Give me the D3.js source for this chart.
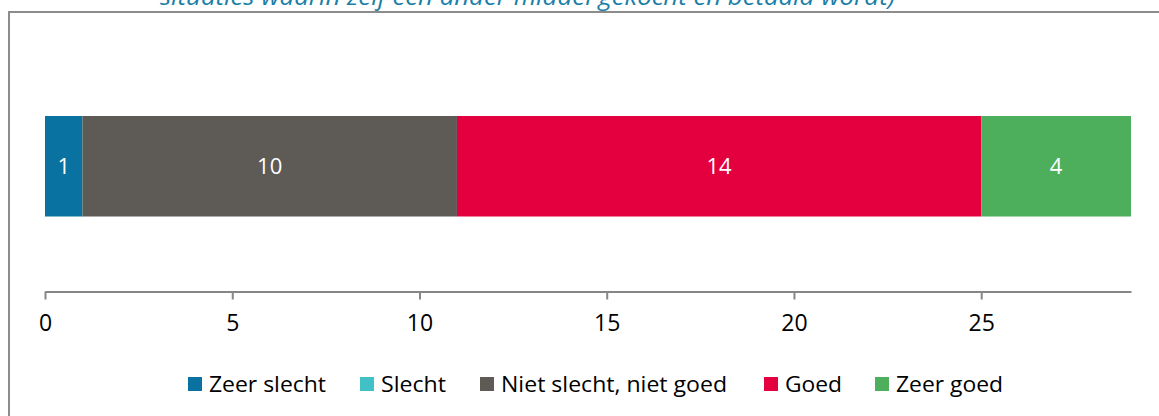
<!DOCTYPE html>
<html>
<head>
<meta charset="utf-8">
<script src="https://cdn.jsdelivr.net/npm/d3@7"></script>
<style>
  html, body { margin: 0; padding: 0; background: #fff; }
  svg { display: block; font-family: "Open Sans", "Noto Sans", sans-serif; }
</style>
</head>
<body>
<svg id="chart" width="1159" height="416"></svg>
<script>
// Beoordeling: aantal antwoorden per categorie
const categories = ["Zeer slecht", "Slecht", "Niet slecht, niet goed", "Goed", "Zeer goed"];
const values = [1, 0, 10, 14, 4];
const colors = ["#0a72a0", "#41c0c6", "#5e5a56", "#e4003f", "#4daf5c"];
const xTicks = [0, 5, 10, 15, 20, 25];
const titleText = "situaties waarin zelf een ander middel gekocht en betaald wordt)";

const svg = d3.select("#chart");

// Kader rond de grafiek
svg.append("rect")
  .attr("x", 9).attr("y", 12)
  .attr("width", 1200).attr("height", 450)
  .attr("fill", "none")
  .attr("stroke", "#8c8c8c")
  .attr("stroke-width", 2);

// Titel (loopt boven het kader door)
svg.append("text")
  .attr("x", 160).attr("y", 5)
  .attr("fill", "#1a80a8")
  .attr("font-style", "italic")
  .attr("font-size", 23)
  .attr("textLength", 735)
  .attr("lengthAdjust", "spacingAndGlyphs")
  .text(titleText);

const total = d3.sum(values);
const x = d3.scaleLinear().domain([0, total]).range([45, 1131]);

// Gestapelde segmenten
const stacked = [];
let acc = 0;
categories.forEach((c, i) => {
  stacked.push({ cat: c, value: values[i], x0: acc, x1: acc + values[i], color: colors[i] });
  acc += values[i];
});

const barTop = 116, barH = 100.5;
const seg = svg.append("g").selectAll("g")
  .data(stacked.filter(d => d.value > 0))
  .join("g");

seg.append("rect")
  .attr("x", d => x(d.x0))
  .attr("y", barTop)
  .attr("width", d => x(d.x1) - x(d.x0))
  .attr("height", barH)
  .attr("fill", d => d.color);

seg.append("text")
  .attr("x", d => (x(d.x0) + x(d.x1)) / 2)
  .attr("y", barTop + barH / 2)
  .attr("dy", "0.36em")
  .attr("text-anchor", "middle")
  .attr("fill", "#fff")
  .attr("font-size", 22)
  .text(d => d.value);

// X-as
const axisY = 291.5;
const axis = d3.axisBottom(x).tickValues(xTicks).tickSize(8).tickSizeOuter(0).tickPadding(15);
const gAxis = svg.append("g").attr("transform", `translate(0,${axisY})`).call(axis);
gAxis.select(".domain").attr("stroke", "#868686").attr("stroke-width", 2);
gAxis.selectAll(".tick line").attr("stroke", "#868686").attr("stroke-width", 2);
gAxis.selectAll(".tick text")
  .attr("fill", "#000")
  .attr("font-size", 23)
  .attr("font-family", "\"Open Sans\", sans-serif");

// Legenda
const legendX = [188, 360, 480, 764, 875];
const legendW = [117, 65, 226, 57, 107];
const lg = svg.append("g").selectAll("g")
  .data(categories)
  .join("g")
  .attr("transform", (d, i) => `translate(${legendX[i]},377)`);
lg.append("rect")
  .attr("width", 14).attr("height", 14)
  .attr("fill", (d, i) => colors[i]);
lg.append("text")
  .attr("x", 21).attr("y", 14.5)
  .attr("font-size", 22)
  .attr("fill", "#000")
  .attr("textLength", (d, i) => legendW[i])
  .attr("lengthAdjust", "spacingAndGlyphs")
  .text(d => d);
</script>
</body>
</html>
